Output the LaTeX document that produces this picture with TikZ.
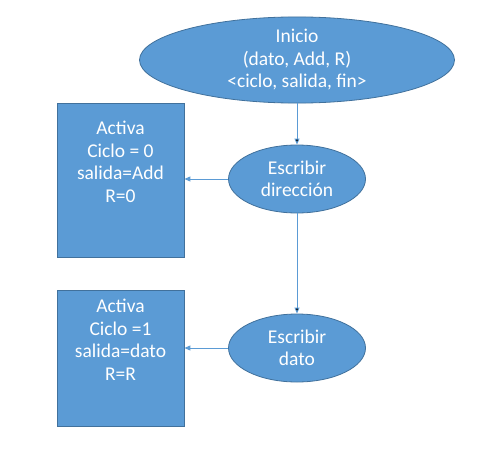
\documentclass[tikz,border=0pt]{standalone}
\usepackage{fontspec}
\setmainfont{Carlito}
\usetikzlibrary{shapes.geometric, arrows.meta}
\definecolor{ofill}{HTML}{5B9BD5}
\definecolor{oline}{HTML}{41719C}

\begin{document}
\begin{tikzpicture}[x=1pt, y=-1pt, >={Triangle[length=6pt,width=5pt]},
        every node/.style={font=\fontsize{19.5}{22.5}\selectfont, text=white, align=center, inner sep=0pt},
        estado/.style={ellipse, draw=oline, fill=ofill, line width=0.8pt},
        accion/.style={rectangle, draw=oline, fill=ofill, line width=0.8pt, minimum width=127pt, text depth=36pt},
        flecha/.style={->, draw=ofill, line width=0.9pt}]
        \useasboundingbox (0,0) rectangle (482,455);

        \node[estado, minimum width=315pt, minimum height=71pt] (inicio) at (297,60) {Inicio\\(dato, Add, R)\\<ciclo, salida, fin>};
        \node[estado, minimum width=137pt, minimum height=68pt] (escdir) at (297,179) {Escribir\\dirección};
        \node[estado, minimum width=137pt, minimum height=68pt] (escdato) at (297,348) {Escribir\\dato};
        \node[accion, minimum height=154pt] (activa0) at (120.5,180) {Activa\\Ciclo = 0\\salida=Add\\R=0};
        \node[accion, minimum height=136pt] (activa1) at (120.5,358) {Activa\\Ciclo =1\\salida=dato\\R=R};

        \path[flecha]
        (inicio) edge (escdir)
        (escdir) edge (escdato);
        \draw[flecha] (escdir.west) -- (escdir.west -| activa0.east);
        \draw[flecha] (escdato.west) -- (escdato.west -| activa1.east);
    \end{tikzpicture}
\end{document}
